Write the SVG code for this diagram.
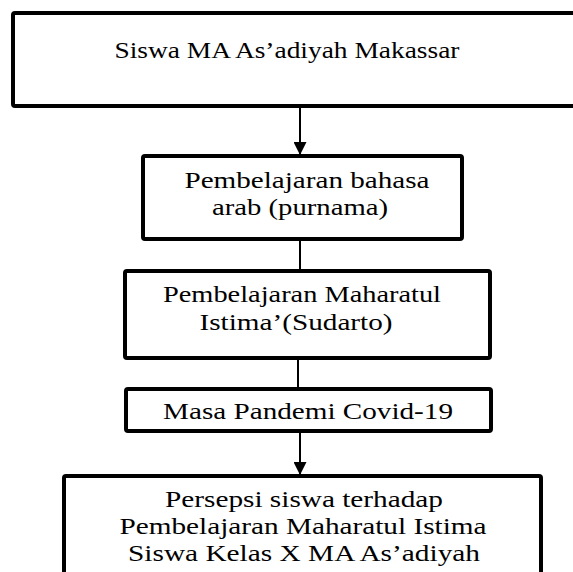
<svg xmlns="http://www.w3.org/2000/svg" width="573" height="572" viewBox="0 0 573 572">
<defs>
<style>
.box{fill:#fff;stroke:#000;stroke-width:4}
.t{font-family:"Liberation Serif","Times New Roman",serif;font-size:23px;fill:#000;text-anchor:middle}
.c{stroke:#000;stroke-width:2;fill:none}
</style>
<marker id="ah" viewBox="0 0 10 10" refX="10" refY="5" markerWidth="6.5" markerHeight="6.5" markerUnits="strokeWidth" orient="auto">
<path d="M0,0 L10,5 L0,10 z" fill="#000"/>
</marker>
</defs>
<rect width="573" height="572" fill="#fff"/>
<g id="connectors">
<line class="c" x1="300" y1="107" x2="300" y2="155" marker-end="url(#ah)"/>
<line class="c" x1="300" y1="239" x2="300" y2="270"/>
<line class="c" x1="298" y1="358" x2="298" y2="388"/>
<line class="c" x1="300" y1="431" x2="300" y2="475" marker-end="url(#ah)"/>
</g>
<g id="n1">
<rect class="box" x="13" y="13" width="600" height="93" rx="2"/>
<text class="t" x="287" y="58" textLength="345" lengthAdjust="spacingAndGlyphs">Siswa MA As’adiyah Makassar</text>
</g>
<g id="n2">
<rect class="box" x="143" y="156" width="319" height="83" rx="2"/>
<text class="t" x="307" y="188" textLength="245" lengthAdjust="spacingAndGlyphs">Pembelajaran bahasa</text>
<text class="t" x="300" y="215" textLength="176" lengthAdjust="spacingAndGlyphs">arab (purnama)</text>
</g>
<g id="n3">
<rect class="box" x="125" y="271" width="365" height="87" rx="2"/>
<text class="t" x="302" y="302" textLength="278" lengthAdjust="spacingAndGlyphs">Pembelajaran Maharatul</text>
<text class="t" x="296" y="330" textLength="193" lengthAdjust="spacingAndGlyphs">Istima’(Sudarto)</text>
</g>
<g id="n4">
<rect class="box" x="126" y="389" width="365" height="42" rx="2"/>
<text class="t" x="308" y="419" textLength="290" lengthAdjust="spacingAndGlyphs">Masa Pandemi Covid-19</text>
</g>
<g id="n5">
<rect class="box" x="64" y="476" width="477" height="110" rx="2"/>
<text class="t" x="304" y="507" textLength="278" lengthAdjust="spacingAndGlyphs">Persepsi siswa terhadap</text>
<text class="t" x="303" y="534" textLength="367" lengthAdjust="spacingAndGlyphs">Pembelajaran Maharatul Istima</text>
<text class="t" x="304" y="561" textLength="352" lengthAdjust="spacingAndGlyphs">Siswa Kelas X MA As’adiyah</text>
</g>
</svg>
